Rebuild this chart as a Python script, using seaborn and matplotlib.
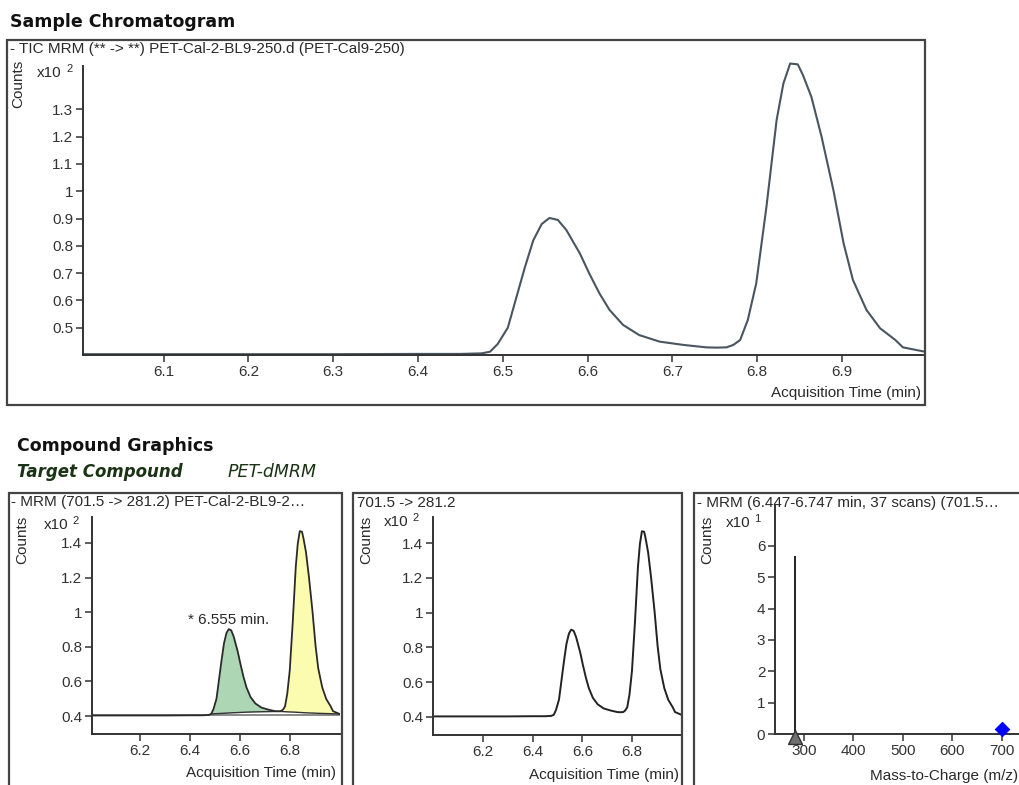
import seaborn as sns
import matplotlib.pyplot as plt
import matplotlib.patches as patches
import numpy as np
import pandas as pd

# Chromatogram trace (acquisition time in min, counts x10^2)
rt = [6.005, 6.10, 6.20, 6.30, 6.40, 6.45, 6.475, 6.485, 6.494, 6.506,
      6.516, 6.526, 6.536, 6.546, 6.555, 6.565, 6.575, 6.591, 6.602, 6.614,
      6.626, 6.642, 6.661, 6.685, 6.713, 6.740, 6.752, 6.764, 6.772, 6.780,
      6.789, 6.799, 6.811, 6.823, 6.831, 6.839, 6.848, 6.854, 6.864, 6.876,
      6.890, 6.902, 6.913, 6.929, 6.945, 6.963, 6.972, 6.998]
counts = [0.403, 0.403, 0.403, 0.403, 0.404, 0.404, 0.406, 0.412, 0.44, 0.50,
          0.61, 0.72, 0.82, 0.88, 0.902, 0.895, 0.858, 0.772, 0.699, 0.626,
          0.565, 0.510, 0.473, 0.449, 0.437, 0.428, 0.427, 0.428, 0.437, 0.455,
          0.528, 0.663, 0.943, 1.261, 1.395, 1.468, 1.465, 1.426, 1.346, 1.200,
          1.004, 0.809, 0.675, 0.565, 0.498, 0.455, 0.428, 0.412]

# integration limits (min)
peak1_start, peak1_end, peak2_end = 6.485, 6.752, 6.998
peak1_rt = 6.555

# spectrum (m/z, counts x10^1)
product_mz = [281.2]
product_counts = [5.67]
precursor_mz = [701.5]
precursor_counts = [0.16]

df = pd.DataFrame({"rt": rt, "counts": counts})

sns.set_style("ticks")
plt.rcParams["font.family"] = ["Liberation Sans", "DejaVu Sans"]

W, H = 1019, 785
fig = plt.figure(figsize=(W / 100, H / 100), dpi=100)
TXT = "#2a2a2a"
FS = 11


def px_axes(left, top, right, bottom):
    return fig.add_axes([left / W, 1 - bottom / H, (right - left) / W, (bottom - top) / H])


def ftext(x, y, s, **kw):
    kw.setdefault("fontsize", FS)
    kw.setdefault("color", TXT)
    kw.setdefault("va", "center")
    fig.text(x / W, 1 - y / H, s, **kw)


def box(left, top, right, bottom):
    fig.add_artist(patches.Rectangle((left / W, 1 - bottom / H), (right - left) / W,
                                     (bottom - top) / H, transform=fig.transFigure,
                                     fill=False, ec="#444444", lw=1.6))


def style_axes(ax):
    sns.despine(ax=ax)
    for s in ["left", "bottom"]:
        ax.spines[s].set_color("#333333")
        ax.spines[s].set_linewidth(1.4)
    ax.tick_params(left=True, bottom=True, direction="out", length=5, width=1.1,
                   color="#333333", labelsize=FS, labelcolor="#333333", pad=2)
    ax.set_xlabel("")
    ax.set_ylabel("")


# section titles
ftext(10, 22, "Sample Chromatogram", fontsize=12.5, fontweight="bold", color="#111111",
      family="DejaVu Sans")
ftext(17, 446, "Compound Graphics", fontsize=12.5, fontweight="bold", color="#111111",
      family="DejaVu Sans")
ftext(17, 472, "Target Compound", fontsize=12, fontweight="bold", style="italic",
      color="#1a3315", family="DejaVu Sans")
ftext(228, 472, "PET-dMRM", fontsize=12.5, style="italic", color="#1a3315",
      family="DejaVu Sans")

# ---- Top panel: TIC
box(7, 40, 925, 405)
ftext(10, 49, "- TIC MRM (** -> **) PET-Cal-2-BL9-250.d (PET-Cal9-250)")
ax1 = px_axes(83, 66, 925, 355)
sns.lineplot(data=df, x="rt", y="counts", ax=ax1, color="#4a5560", linewidth=1.5,
             estimator=None, sort=False)
ax1.lines[0].set_clip_on(False)
ax1.set_xlim(6.005, 6.998)
ax1.set_ylim(0.4, 1.459)
ax1.set_xticks([6.1, 6.2, 6.3, 6.4, 6.5, 6.6, 6.7, 6.8, 6.9])
ax1.set_yticks([0.5, 0.6, 0.7, 0.8, 0.9, 1.0, 1.1, 1.2, 1.3])
ax1.set_yticklabels(["0.5", "0.6", "0.7", "0.8", "0.9", "1", "1.1", "1.2", "1.3"])
style_axes(ax1)
ftext(18, 84, "Counts", rotation=90, ha="center")
ftext(37, 73, "x10")
ftext(66, 69, "2", fontsize=8)
ftext(921, 393, "Acquisition Time (min)", ha="right")

# ---- Bottom left: MRM with integrated peaks
box(9, 493, 342, 795)
ftext(11, 502, "- MRM (701.5 -> 281.2) PET-Cal-2-BL9-2…")
ax2 = px_axes(92, 517, 340, 734)
rt_a = np.array(rt)
ct_a = np.array(counts)
m1 = (rt_a >= peak1_start) & (rt_a <= peak1_end)
m2 = (rt_a >= peak1_end) & (rt_a <= peak2_end)
base1 = np.linspace(ct_a[m1][0], ct_a[m1][-1], m1.sum())
base2 = np.linspace(ct_a[m2][0], ct_a[m2][-1], m2.sum())
ax2.fill_between(rt_a[m1], base1, ct_a[m1], color="#acd6b4", lw=0)
ax2.fill_between(rt_a[m2], base2, ct_a[m2], color="#fcfcb0", lw=0)
ax2.plot(rt_a[m1], base1, color="#333333", lw=1.0)
ax2.plot(rt_a[m2], base2, color="#333333", lw=1.0)
ax2.axhline(0.403, color="#777777", lw=1.2, zorder=1)
sns.lineplot(data=df, x="rt", y="counts", ax=ax2, color="#2a2a2a", linewidth=1.3,
             estimator=None, sort=False)
ax2.annotate(f"* {peak1_rt} min.", (peak1_rt, 0.902), xytext=(0, 1.5),
             textcoords="offset points", ha="center", va="bottom",
             fontsize=FS, color=TXT)
ax2.set_xlim(6.008, 7.0)
ax2.set_ylim(0.296, 1.55)
ax2.set_xticks([6.2, 6.4, 6.6, 6.8])
ax2.set_yticks([0.4, 0.6, 0.8, 1.0, 1.2, 1.4])
ax2.set_yticklabels(["0.4", "0.6", "0.8", "1", "1.2", "1.4"])
style_axes(ax2)
ftext(22, 540, "Counts", rotation=90, ha="center")
ftext(44, 525, "x10")
ftext(72, 521, "2", fontsize=8)
ftext(336, 773, "Acquisition Time (min)", ha="right")

# ---- Bottom middle: transition
box(353, 493, 682, 795)
ftext(357, 503, "701.5 -> 281.2")
ax3 = px_axes(433, 517, 681, 735)
sns.lineplot(data=df, x="rt", y="counts", ax=ax3, color="#222222", linewidth=1.4,
             estimator=None, sort=False)
ax3.set_xlim(6.0, 6.996)
ax3.set_ylim(0.296, 1.55)
ax3.set_xticks([6.2, 6.4, 6.6, 6.8])
ax3.set_yticks([0.4, 0.6, 0.8, 1.0, 1.2, 1.4])
ax3.set_yticklabels(["0.4", "0.6", "0.8", "1", "1.2", "1.4"])
style_axes(ax3)
ftext(366, 540, "Counts", rotation=90, ha="center")
ftext(384, 522, "x10")
ftext(412, 518, "2", fontsize=8)
ftext(679, 775, "Acquisition Time (min)", ha="right")

# ---- Bottom right: MRM spectrum
box(694, 493, 1040, 795)
ftext(697, 503, "- MRM (6.447-6.747 min, 37 scans) (701.5…")
ax4 = px_axes(775, 505, 1045, 734)
ax4.vlines(product_mz, 0, product_counts, color="#222222", lw=1.4)
sns.scatterplot(x=product_mz, y=[-0.1], ax=ax4, marker="^", s=100, color="#707070",
                edgecolor="#333333", linewidth=1, clip_on=False, zorder=5)
sns.scatterplot(x=precursor_mz, y=precursor_counts, ax=ax4, marker="D", s=55,
                color="#0000ff", edgecolor="#0000ff", clip_on=False, zorder=5)
ax4.set_xlim(241, 788)
ax4.set_ylim(0, 7.3)
ax4.set_xticks([300, 400, 500, 600, 700])
ax4.set_yticks([0, 1, 2, 3, 4, 5, 6])
style_axes(ax4)
ftext(707, 540, "Counts", rotation=90, ha="center")
ftext(726, 523, "x10")
ftext(754, 519, "1", fontsize=8)
ftext(1018, 776, "Mass-to-Charge (m/z)", ha="right")

fig.savefig("out.png", dpi=100)
plt.close(fig)
